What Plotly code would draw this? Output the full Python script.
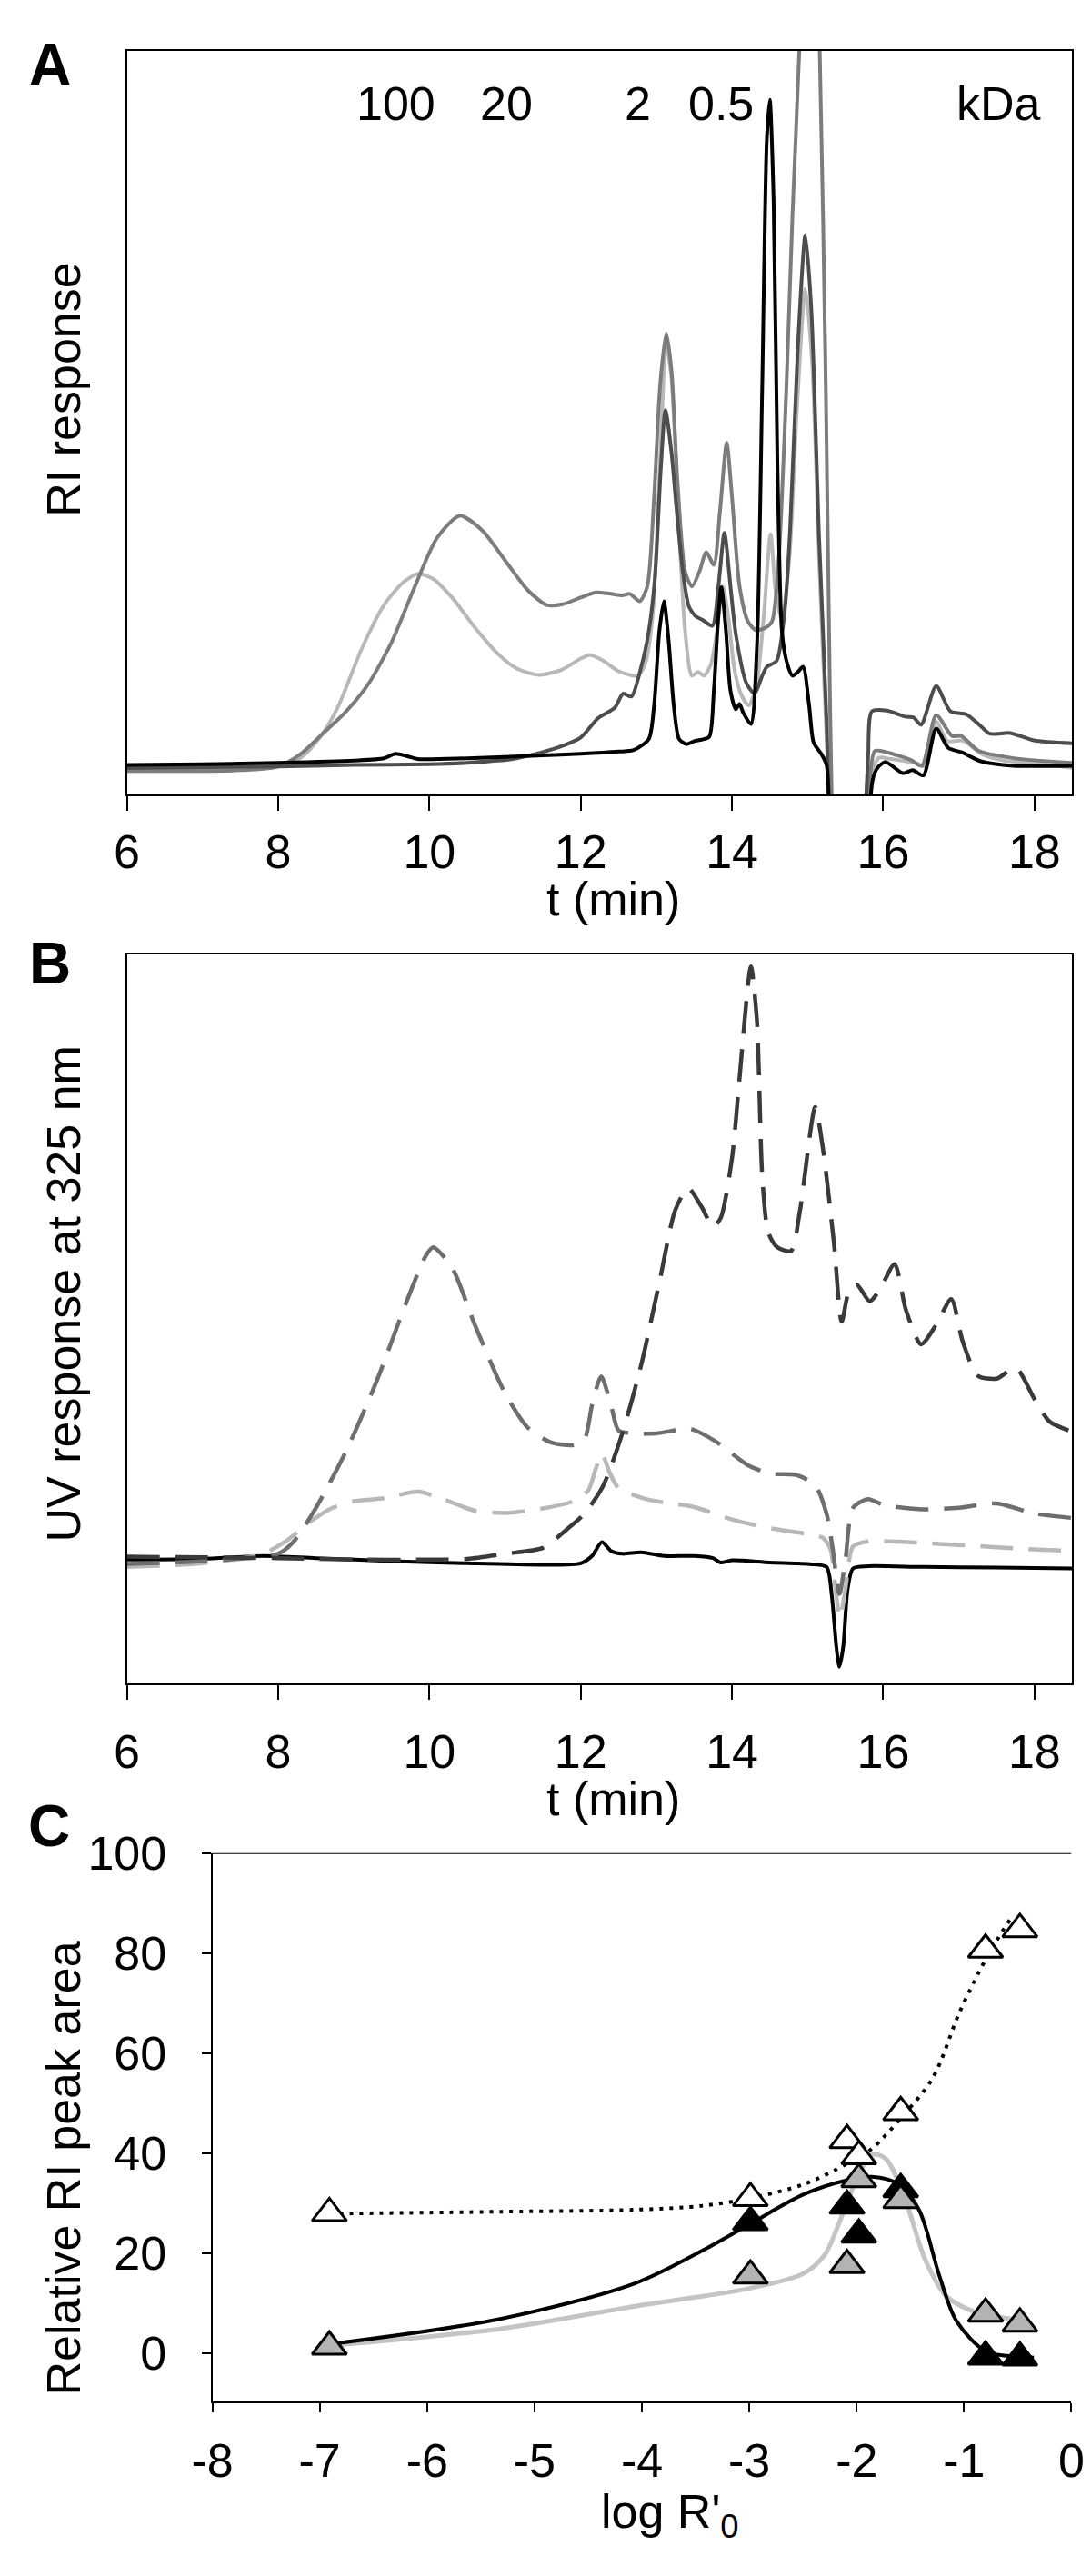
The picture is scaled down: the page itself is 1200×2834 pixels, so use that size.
import plotly.graph_objects as go

W, H = 1200, 2834
FONT = "Liberation Sans, Arial, Helvetica, sans-serif"

# ---------------- Panel A: RI response ----------------
a_t_lg = [6.0, 7.0, 7.8, 8.3, 8.6, 8.8, 9.1, 9.4, 9.65, 9.85, 10.05, 10.3, 10.6, 10.9, 11.15, 11.45, 11.75,
          12.0, 12.12, 12.3, 12.5, 12.75, 12.85, 12.95, 13.05, 13.13, 13.2, 13.28, 13.38, 13.47, 13.55, 13.63,
          13.72, 13.8, 13.88, 13.95, 14.03, 14.12, 14.22, 14.32, 14.42, 14.51, 14.58, 14.66, 14.76, 14.86, 14.97,
          15.06, 15.15, 15.24, 15.3, 15.36, 15.45, 15.6, 15.72, 15.8, 15.88, 15.95, 16.1, 16.3, 16.45, 16.55,
          16.7, 16.85, 17.05, 17.3, 17.6, 18.0, 18.5]
a_v_lg = [3.5, 3.5, 3.7, 5.0, 8.4, 12.0, 19.5, 25.5, 28.5, 29.7, 29.0, 26.5, 22.5, 19.0, 17.0, 16.1, 16.8,
          18.3, 18.8, 18.0, 16.6, 16.0, 17.5, 24.0, 45.0, 60.5, 56.0, 40.0, 22.0, 16.0, 16.5, 16.0,
          17.5, 22.0, 28.0, 24.0, 17.0, 13.5, 12.0, 14.5, 24.0, 35.0, 27.0, 23.5, 32.0, 52.0, 68.0,
          58.0, 32.0, 10.0, -5.0, -30.0, -45.0, -45.0, -20.0, 0.0, 4.0, 5.0, 4.8, 4.5, 4.2, 3.8,
          9.8, 7.2, 7.3, 5.5, 4.6, 4.3, 3.6]

a_t_g2 = [6.0, 7.5, 8.0, 8.3, 8.6, 8.9, 9.2, 9.5, 9.8, 10.1, 10.4, 10.7, 11.0, 11.3, 11.55, 11.76, 12.0, 12.2,
          12.4, 12.55, 12.65, 12.78, 12.88, 12.97, 13.05, 13.13, 13.2, 13.28, 13.38, 13.47, 13.57, 13.66, 13.76,
          13.84, 13.93, 14.0, 14.1, 14.21, 14.32, 14.45, 14.53, 14.62, 14.72, 14.8, 14.89, 15.02, 15.16, 15.24,
          15.3, 15.36, 15.45, 15.6, 15.75, 15.82, 15.89, 16.05, 16.36, 16.51, 16.7, 16.91, 17.03, 17.26, 17.61,
          17.92, 18.5]
a_v_g2 = [3.2, 3.3, 3.8, 5.5, 8.3, 11.2, 15.0, 20.5, 27.8, 34.5, 37.5, 35.5, 31.5, 27.5, 25.5, 25.6, 26.5, 27.2,
          27.0, 26.8, 27.0, 26.0, 28.0, 40.0, 55.0, 62.0, 57.0, 42.0, 30.0, 28.0, 30.0, 32.6, 30.9,
          38.0, 47.3, 40.0, 28.0, 23.3, 22.1, 22.5, 23.3, 32.0, 55.0, 78.0, 100.0, 140.0, 100.0, 55.0,
          10.0, -20.0, -45.0, -45.0, -20.0, 2.0, 5.9, 5.7, 4.7, 3.9, 10.7, 7.9, 7.9, 5.9, 5.1,
          4.7, 4.3]

a_t_g3 = [6.0, 8.0, 9.0, 10.0, 10.5, 11.1, 11.65, 12.0, 12.23, 12.45, 12.56, 12.67, 12.8, 12.9, 12.98, 13.06,
          13.12, 13.2, 13.27, 13.35, 13.43, 13.52, 13.61, 13.74, 13.82, 13.9, 13.98, 14.05, 14.19, 14.3, 14.4,
          14.46, 14.59, 14.7, 14.77, 14.87, 14.97, 15.05, 15.15, 15.25, 15.3, 15.36, 15.5, 15.68, 15.74, 15.8,
          15.85, 16.05, 16.29, 16.4, 16.5, 16.7, 16.89, 17.1, 17.26, 17.41, 17.68, 17.99, 18.5]
a_v_g3 = [3.6, 3.8, 4.0, 4.1, 4.3, 4.8, 6.2, 7.7, 10.3, 11.7, 13.6, 13.2, 17.2, 22.0, 29.0, 44.0,
          51.7, 46.0, 38.0, 30.0, 25.3, 24.0, 23.5, 22.7, 28.0, 35.2, 28.0, 21.6, 15.0, 13.6, 16.0,
          17.2, 18.0, 25.0, 36.0, 60.0, 75.2, 65.0, 35.0, 10.0, -10.0, -40.0, -50.0, -40.0, -10.0, 5.0,
          11.2, 11.3, 10.5, 10.4, 9.4, 14.6, 11.2, 10.8, 9.5, 8.2, 8.3, 7.3, 6.9]

a_t_k = [6.0, 7.0, 8.0, 9.0, 9.4, 9.55, 9.7, 9.85, 10.5, 11.5, 12.0, 12.5, 12.7, 12.9, 12.97, 13.04, 13.1,
         13.16, 13.23, 13.3, 13.4, 13.5, 13.6, 13.7, 13.76, 13.82, 13.86, 13.92, 13.98, 14.05, 14.1, 14.15,
         14.25, 14.33, 14.4, 14.46, 14.5, 14.55, 14.6, 14.66, 14.72, 14.8, 14.87, 14.94, 15.02, 15.08, 15.18,
         15.25, 15.3, 15.36, 15.5, 15.7, 15.78, 15.86, 15.93, 16.03, 16.26, 16.39, 16.53, 16.7, 16.86, 17.04,
         17.29, 17.72, 18.5]
a_v_k = [4.0, 4.1, 4.3, 4.6, 4.9, 5.5, 5.2, 4.8, 4.9, 5.3, 5.5, 5.8, 6.0, 7.5, 12.0, 22.0, 26.0,
         21.0, 12.0, 7.5, 6.8, 7.2, 7.4, 7.8, 14.0, 24.0, 27.9, 22.0, 14.0, 11.5, 12.2, 11.0,
         9.5, 20.0, 55.0, 88.0, 93.4, 80.0, 45.0, 22.0, 18.0, 16.0, 16.5, 17.2, 12.0, 7.0, 5.5,
         4.0, -10.0, -40.0, -50.0, -40.0, -10.0, 2.0, 3.7, 4.4, 2.9, 3.3, 2.6, 8.9, 6.3, 5.7,
         4.5, 3.9, 3.9]

kda_labels = ["100", "20", "2", "0.5"]
kda_tick_t = [9.77, 10.95, 12.94, 14.05]
kda_label_t = [9.56, 11.02, 12.76, 13.86]
kda_unit = "kDa"
t_ticks = [6, 8, 10, 12, 14, 16, 18]

# ---------------- Panel B: UV response ----------------
b_t_k = [6.0, 7.0, 7.8, 8.5, 9.5, 10.5, 11.5, 12.0, 12.15, 12.28, 12.4, 12.55, 12.8, 13.1, 13.5, 13.75, 13.85,
         14.0, 14.5, 15.0, 15.25, 15.32, 15.38, 15.42, 15.47, 15.53, 15.6, 15.8, 16.5, 17.5, 18.5]
b_v_k = [17.0, 17.1, 17.5, 17.2, 16.8, 16.5, 16.3, 16.5, 17.5, 19.4, 18.2, 17.8, 18.0, 17.5, 17.5, 17.2, 16.6,
         16.9, 16.6, 16.4, 16.0, 12.0, 5.0, 2.3, 5.0, 13.0, 15.8, 16.1, 16.0, 15.9, 15.8]

b_t_lg = [6.0, 7.0, 7.8, 8.1, 8.4, 8.7, 9.0, 9.4, 9.85, 10.2, 10.6, 11.0, 11.5, 11.9, 12.1, 12.2, 12.28, 12.38,
          12.5, 12.8, 13.0, 13.5, 14.0, 14.5, 15.0, 15.2, 15.3, 15.38, 15.43, 15.5, 15.6, 15.8, 16.5, 17.0,
          17.5, 18.0, 18.5]
b_v_lg = [16.0, 16.5, 17.8, 19.5, 22.0, 24.0, 25.0, 25.4, 26.3, 25.2, 23.7, 23.4, 24.0, 25.0, 26.5, 29.5, 31.5,
          29.0, 26.8, 25.5, 25.0, 24.2, 22.5, 21.3, 20.5, 20.0, 18.5, 12.0, 9.0, 13.0, 18.8, 19.5, 19.3, 19.0,
          18.7, 18.4, 18.2]

b_t_mg = [6.0, 7.0, 8.0, 8.2, 8.5, 8.9, 9.3, 9.7, 9.95, 10.05, 10.3, 10.6, 11.0, 11.3, 11.6, 11.9, 12.05, 12.15,
          12.27, 12.4, 12.5, 12.7, 13.0, 13.45, 13.8, 14.2, 14.5, 14.85, 15.1, 15.25, 15.33, 15.42, 15.5, 15.6,
          15.8, 16.0, 16.5, 17.0, 17.5, 18.0, 18.5]
b_v_mg = [16.4, 16.8, 17.8, 19.4, 24.1, 31.9, 41.4, 52.4, 58.6, 59.8, 57.0, 49.2, 39.8, 35.1, 33.1, 32.7, 33.5,
          38.2, 42.1, 38.2, 34.7, 34.3, 34.3, 34.9, 33.1, 30.0, 28.8, 28.6, 27.2, 23.3, 18.6, 12.3, 17.0, 24.1,
          25.3, 24.5, 23.9, 24.1, 24.7, 23.3, 22.7]

b_t_dg = [6.0, 8.0, 9.0, 10.0, 10.5, 11.0, 11.5, 11.8, 12.05, 12.3, 12.55, 12.8, 13.05, 13.25, 13.42, 13.6,
          13.75, 13.85, 14.0, 14.1, 14.25, 14.33, 14.4, 14.48, 14.6, 14.78, 14.9, 15.1, 15.2, 15.35, 15.45,
          15.55, 15.65, 15.82, 15.95, 16.15, 16.3, 16.5, 16.7, 16.9, 17.05, 17.25, 17.5, 17.75, 18.0, 18.2, 18.45]
b_v_dg = [17.4, 17.2, 17.0, 17.0, 17.1, 17.8, 18.6, 21.0, 23.3, 27.2, 34.3, 43.7, 55.5, 64.9, 67.9, 65.3,
          62.6, 63.8, 72.0, 83.0, 98.3, 90.8, 69.6, 61.8, 59.8, 59.3, 64.9, 79.0, 73.5, 60.2, 49.6,
          53.9, 54.7, 52.4, 53.9, 57.5, 51.2, 46.5, 49.2, 52.7, 46.9, 42.2, 41.8, 43.3, 39.0, 35.9, 34.7]

# ---------------- Panel C: relative RI peak area ----------------
c_logr = [-6.91, -2.99, -2.09, -1.98, -1.59, -0.80, -0.48]
c_open = [28.0, 31.0, 42.6, 39.4, 48.2, 80.7, 84.8]
c_gray = [1.3, 15.5, 17.6, 34.8, 30.6, 7.9, 5.9]
c_black = [None, 26.2, 29.5, 23.7, 32.8, -0.7, -0.9]

c_fit_open_x = [-6.91, -5.31, -4.06, -3.43, -2.99, -2.49, -2.09, -1.86, -1.59, -1.29, -1.04, -0.78, -0.57]
c_fit_open_y = [27.9, 28.3, 28.7, 29.5, 31.0, 33.8, 37.9, 40.9, 47.0, 55.1, 68.3, 79.5, 86.8]
c_fit_black_x = [-6.91, -5.31, -4.06, -3.43, -2.99, -2.49, -2.09, -1.86, -1.61, -1.42, -1.23, -1.07, -0.79, -0.48, -0.35]
c_fit_black_y = [1.8, 6.9, 14.0, 20.6, 25.9, 31.8, 34.6, 35.3, 33.8, 28.7, 15.5, 6.4, 0.3, -0.7, -0.9]
c_fit_gray_x = [-6.91, -5.31, -4.06, -2.99, -2.49, -2.3, -2.17, -2.02, -1.86, -1.73, -1.55, -1.36, -1.17, -0.92, -0.67, -0.48]
c_fit_gray_y = [1.5, 4.9, 9.4, 13.0, 16.0, 19.6, 25.7, 33.8, 39.7, 38.9, 30.8, 18.6, 11.5, 8.4, 7.2, 6.6]

c_xticks = [-8, -7, -6, -5, -4, -3, -2, -1, 0]
c_xtick_text = ["-8", "-7", "-6", "-5", "-4", "-3", "-2", "-1", "0"]
c_yticks = [0, 20, 40, 60, 80, 100]


def px(x):
    return x / W


def py(y):
    return 1 - y / H


fig = go.Figure()


def line(x, y, color, width, xa, ya, dash=None, smoothing=0.7):
    fig.add_trace(go.Scatter(
        x=x, y=y, mode="lines", xaxis=xa, yaxis=ya, showlegend=False, hoverinfo="skip",
        line=dict(color=color, width=width, shape="spline", smoothing=smoothing, dash=dash)))


# Panel A traces
line(a_t_lg, a_v_lg, "#b8b8b8", 4, "x", "y")
line(a_t_g2, a_v_g2, "#7c7c7c", 4, "x", "y")
line(a_t_g3, a_v_g3, "#4d4d4d", 4, "x", "y")
line(a_t_k, a_v_k, "#000000", 4, "x", "y")

# Panel B traces
line(b_t_k, b_v_k, "#000000", 4, "x2", "y2")
line(b_t_lg, b_v_lg, "#b8b8b8", 4.5, "x2", "y2", dash="36px,17px")
line(b_t_mg, b_v_mg, "#6e6e6e", 4.5, "x2", "y2", dash="36px,17px")
line(b_t_dg, b_v_dg, "#3a3a3a", 4.5, "x2", "y2", dash="36px,17px")

# Panel C traces
line(c_fit_gray_x, c_fit_gray_y, "#c4c4c4", 5, "x3", "y3", smoothing=0.9)
line(c_fit_black_x, c_fit_black_y, "#000000", 4, "x3", "y3", smoothing=0.9)
line(c_fit_open_x, c_fit_open_y, "#000000", 4, "x3", "y3", dash="4px,7px", smoothing=0.9)


def markers(y, fill):
    fig.add_trace(go.Scatter(
        x=c_logr, y=y, mode="markers", xaxis="x3", yaxis="y3", showlegend=False, hoverinfo="skip",
        marker=dict(symbol="triangle-up", size=33, color=fill, line=dict(color="#000000", width=3))))


markers(c_black, "#000000")
markers(c_open, "#ffffff")
markers(c_gray, "#b3b3b3")

tickfont = dict(family=FONT, size=52, color="#000000")
frame = dict(showline=True, linewidth=2, linecolor="#000000", showgrid=False, zeroline=False)

A_dom_x = [px(112), px(1185)]
A_dom_y = [py(846), py(19)]
B_dom_y = [py(1834), py(1023)]
C_dom_x = [px(209), px(1184)]
C_dom_y = [py(2632), py(2022.5)]

fig.update_layout(
    width=W, height=H, margin=dict(l=0, r=0, t=0, b=0),
    paper_bgcolor="#ffffff", plot_bgcolor="#ffffff",
    font=dict(family=FONT, color="#000000"),
    xaxis=dict(domain=A_dom_x, anchor="y", range=[6, 18.5], tickvals=t_ticks, ticks="outside", ticklen=16,
               tickwidth=2, tickcolor="#000000", mirror=True, tickfont=tickfont, ticklabelstandoff=0, **frame),
    yaxis=dict(domain=A_dom_y, anchor="x", range=[0, 100], showticklabels=False, ticks="", mirror=True, **frame),
    xaxis4=dict(overlaying="x", anchor="y", side="top", range=[6, 18.5], tickvals=kda_tick_t, ticks="inside",
                ticklen=18, tickwidth=2, tickcolor="#000000", showticklabels=False, showline=False,
                showgrid=False, zeroline=False),
    xaxis2=dict(domain=A_dom_x, anchor="y2", range=[6, 18.5], tickvals=t_ticks, ticks="outside", ticklen=16,
                tickwidth=2, tickcolor="#000000", mirror=True, tickfont=tickfont, ticklabelstandoff=12, **frame),
    yaxis2=dict(domain=B_dom_y, anchor="x2", range=[0, 100], showticklabels=False, ticks="", mirror=True, **frame),
    xaxis3=dict(domain=C_dom_x, anchor="y3", range=[-8, 0], tickvals=c_xticks, ticktext=c_xtick_text,
                ticks="outside", ticklen=10, tickwidth=2, tickcolor="#000000", tickfont=tickfont,
                ticklabelstandoff=9, **frame),
    yaxis3=dict(domain=C_dom_y, anchor="x3", range=[-9.67, 100], tickvals=c_yticks, ticks="outside", ticklen=10,
                tickwidth=2, tickcolor="#000000", tickfont=tickfont, ticklabelstandoff=28, **frame),
)

# top border of panel C
fig.add_shape(type="line", xref="x3", yref="y3", x0=-8, x1=0, y0=100, y1=100,
              line=dict(color="#000000", width=2))

ann = []
# panel letters
for letter, (xx, yy) in zip(["A", "B", "C"], [(25, 34), (25, 1034), (24, 1992)]):
    ann.append(dict(text="<b>" + letter + "</b>", x=px(xx), y=py(yy), xref="paper", yref="paper",
                    showarrow=False, xanchor="center", yanchor="middle",
                    font=dict(family=FONT, size=64, color="#000000")))
# kDa labels
for lab, tt in zip(kda_labels, kda_label_t):
    ann.append(dict(text=lab, x=tt, y=py(78), xref="x", yref="paper", showarrow=False,
                    xanchor="center", yanchor="middle", font=dict(family=FONT, size=52, color="#000000")))
ann.append(dict(text=kda_unit, x=px(1101), y=py(78), xref="paper", yref="paper", showarrow=False,
                xanchor="center", yanchor="middle", font=dict(family=FONT, size=52, color="#000000")))
# axis titles
titles = [
    ("RI response", 40, 396, -90),
    ("UV response at 325 nm", 40, 1401, -90),
    ("Relative RI peak area", 40, 2373, -90),
    ("t (min)", 664, 962, 0),
    ("t (min)", 664, 1962, 0),
    ("log R'<sub>0</sub>", 728, 2758, 0),
]
for txt, xx, yy, ang in titles:
    ann.append(dict(text=txt, x=px(xx), y=py(yy), xref="paper", yref="paper", showarrow=False,
                    xanchor="center", yanchor="middle", textangle=ang,
                    font=dict(family=FONT, size=52, color="#000000")))
fig.update_layout(annotations=ann)

fig.write_html("out.html")
